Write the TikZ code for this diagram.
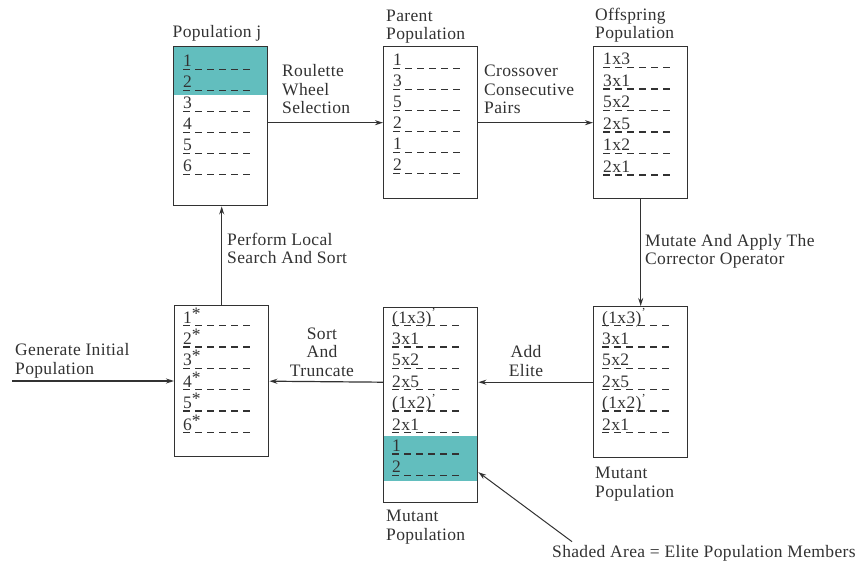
\documentclass[tikz,border=0pt]{standalone}
\usepackage{fontspec}
\setmainfont{Liberation Serif}[LetterSpace=2]
\usetikzlibrary{arrows.meta}
\definecolor{eliteteal}{RGB}{98,190,190}
\definecolor{inkgray}{RGB}{50,50,50}

\begin{document}
\begin{tikzpicture}
        [
            x=1pt, y=-1pt,
            font=\fontsize{17.5}{18.5}\selectfont,
            popbox/.style={rectangle, draw=inkgray, line width=1.4pt, minimum width=94pt, inner sep=0pt, anchor=north west},
            member/.style={anchor=base west, inner sep=0pt, text=inkgray},
            memberdash/.style={draw=inkgray, line width=1.3pt, dash pattern=on 7pt off 5pt},
            lbl/.style={anchor=base west, align=left, inner sep=0pt, text=inkgray},
            flow/.style={draw=inkgray, line width=1.2pt, -{Stealth[length=8pt,width=5pt]}}
        ]
        \useasboundingbox (0,0) rectangle (865,572);
        % shaded elite areas
        \fill[eliteteal] (173,46) rectangle (267,95);
        \fill[eliteteal] (383,436) rectangle (477,481);
        % Population j
        \node[popbox, minimum height=159pt] (popj) at (173,46) {};
        \node[lbl, anchor=base] (popj-title) at (217,38) {Population j};
        \foreach \m [count=\i] in {1,2,3,4,5,6} {
            \node[member] (popj-\i) at (183,46+21*\i) {\m};
            \draw[memberdash] ([yshift=-2.5pt]popj-\i.base west) -- ++(68,0);
        }
        % Parent
        \node[popbox, minimum height=152pt] (parent) at (383,46) {};
        \node[lbl] (parent-title) at (386,40) {Parent\\Population};
        \foreach \m [count=\i] in {1,3,5,2,1,2} {
            \node[member] (parent-\i) at (393,45+21*\i) {\m};
            \draw[memberdash] ([yshift=-2.5pt]parent-\i.base west) -- ++(68,0);
        }
        % Offspring
        \node[popbox, minimum height=152pt] (offspring) at (593,46) {};
        \node[lbl] (offspring-title) at (595,39) {Offspring\\Population};
        \foreach \m [count=\i] in {1x3,3x1,5x2,2x5,1x2,2x1} {
            \node[member] (offspring-\i) at (603,43.5+21.5*\i) {\m};
            \draw[memberdash] ([yshift=-2.5pt]offspring-\i.base west) -- ++(68,0);
        }
        % Mutant
        \node[popbox, minimum height=151pt] (mutant) at (593,306) {};
        \node[lbl] (mutant-title) at (595,497) {Mutant\\Population};
        \foreach \m [count=\i] in {{(1x3)\textsuperscript{'}},3x1,5x2,2x5,{(1x2)\textsuperscript{'}},2x1} {
            \node[member] (mutant-\i) at (602,301.6+21.4*\i) {\m};
            \draw[memberdash] ([yshift=-2.5pt]mutant-\i.base west) -- ++(69,0);
        }
        % Mutant plus elite
        \node[popbox, minimum height=195pt] (elite) at (383,307) {};
        \node[lbl] (elite-title) at (386,540) {Mutant\\Population};
        \foreach \m [count=\i] in {{(1x3)\textsuperscript{'}},3x1,5x2,2x5,{(1x2)\textsuperscript{'}},2x1,1,2} {
            \node[member] (elite-\i) at (392,301.6+21.4*\i) {\m};
            \draw[memberdash] ([yshift=-2.5pt]elite-\i.base west) -- ++(69,0);
        }
        % Sorted
        \node[popbox, minimum height=151pt] (sorted) at (174,305) {};
        \foreach \m [count=\i] in {1,2,3,4,5,6} {
            \node[member] (sorted-\i) at (183,301.6+21.4*\i) {\m\raisebox{4pt}{*}};
            \draw[memberdash] ([yshift=-2.5pt]sorted-\i.base west) -- ++(70,0);
        }
        % connectors
        \draw[flow] (popj.east |- parent.west) -- (parent.west);
        \node[lbl] (roulette) at (282,114) {Roulette\\Wheel\\Selection};
        \draw[flow] (parent.east) -- (offspring.west);
        \node[lbl] (crossover) at (484,114) {Crossover\\Consecutive\\Pairs};
        \draw[flow] (offspring.south) -- (mutant.north);
        \node[lbl] (mutate) at (645,265) {Mutate And Apply The\\Corrector Operator};
        \draw[flow] (mutant.west) -- (mutant.west -| elite.east);
        \node[lbl, anchor=base, align=center] (addelite) at (526,376) {Add\\Elite};
        \draw[flow] (mutant.west -| elite.west) -- (sorted.east);
        \node[lbl, anchor=base, align=center] (truncate) at (322,376) {Sort\\And\\Truncate};
        \draw[flow] (sorted.north) -- (popj.south -| sorted.north);
        \node[lbl] (localsearch) at (227,264) {Perform Local\\Search And Sort};
        \coordinate (start) at (12,381);
        \draw[flow] (start) -- (start -| sorted.west);
        \node[lbl] (generate) at (15,374) {Generate Initial\\Population};
        % note
        \node[lbl] (note) at (552,557) {Shaded Area = Elite Population Members};
        \draw[flow, line width=1pt] ([xshift=20pt,yshift=3pt]note.north west) -- ([yshift=-67pt]elite.east);
    \end{tikzpicture}
\end{document}
